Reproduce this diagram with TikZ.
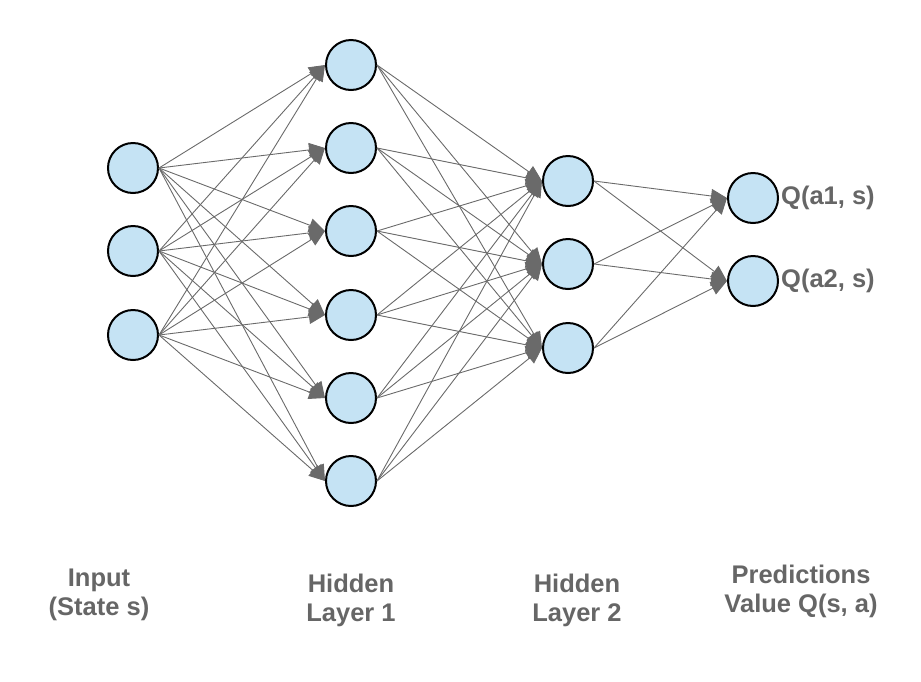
\documentclass[tikz,border=0pt]{standalone}
\usepackage{fontspec}
\setmainfont{Liberation Sans}
\usetikzlibrary{arrows.meta}
\definecolor{nodefill}{HTML}{C5E3F4}
\definecolor{edgegray}{HTML}{6A6A6A}
\definecolor{textgray}{HTML}{666666}
\tikzset{
  neuron/.style={circle,draw=black,line width=2pt,fill=nodefill,minimum size=50pt,inner sep=0pt},
  conn/.style={draw=edgegray,line width=0.9pt,-{Triangle[length=16pt,width=14pt]}},
  lbl/.style={text=textgray,font=\bfseries\fontsize{25.5}{29}\selectfont,align=center,inner sep=0pt},
  qlbl/.style={text=textgray,font=\bfseries\fontsize{25.5}{29}\selectfont,anchor=west,inner sep=2pt}
}
\begin{document}
\begin{tikzpicture}[x=1pt,y=-1pt]
\useasboundingbox (0,0) rectangle (921,681);
% input layer
\node[neuron] (i1) at (133,168) {};
\node[neuron] (i2) at (133,251) {};
\node[neuron] (i3) at (133,335) {};
% hidden layer 1
\node[neuron] (a1) at (351,65) {};
\node[neuron] (a2) at (351,148) {};
\node[neuron] (a3) at (351,231) {};
\node[neuron] (a4) at (351,315) {};
\node[neuron] (a5) at (351,398) {};
\node[neuron] (a6) at (351,481) {};
% hidden layer 2
\node[neuron] (b1) at (568,181) {};
\node[neuron] (b2) at (568,264) {};
\node[neuron] (b3) at (568,348) {};
% output layer
\node[neuron] (o1) at (753,198) {};
\node[neuron] (o2) at (753,281) {};
% connections
\foreach \s in {i1,i2,i3}
  \foreach \t in {a1,a2,a3,a4,a5,a6}
    \draw[conn] (\s.east) -- (\t.west);
\foreach \s in {a1,a2,a3,a4,a5,a6}
  \foreach \t in {b1,b2,b3}
    \draw[conn] (\s.east) -- (\t.west);
\foreach \s in {b1,b2,b3}
  \foreach \t in {o1,o2}
    \draw[conn] (\s.east) -- (\t.west);
% output labels
\node[qlbl] (q1) at (o1.east) {Q(a1, s)};
\node[qlbl] (q2) at (o2.east) {Q(a2, s)};
% layer labels
\node[lbl] (l1) at (99,595) {Input\\(State s)};
\node[lbl] (l2) at (351,600) {Hidden\\Layer 1};
\node[lbl] (l3) at (577,600) {Hidden\\Layer 2};
\node[lbl] (l4) at (801,591) {Predictions\\Value Q(s, a)};
\end{tikzpicture}
\end{document}
